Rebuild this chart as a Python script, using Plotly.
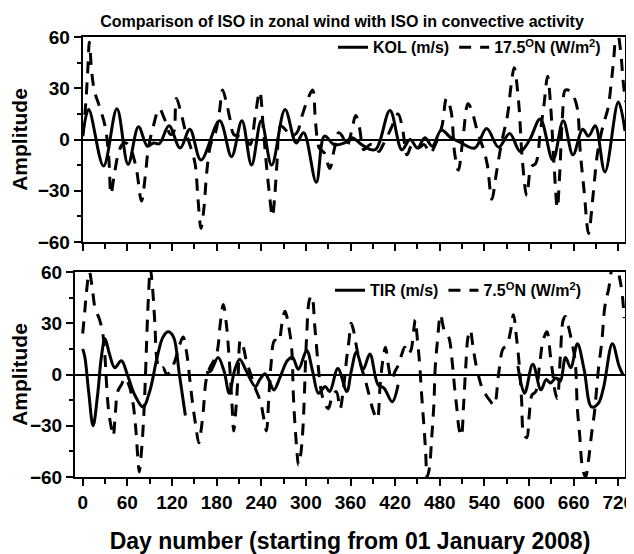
import plotly.graph_objects as go

# ---------------- data ----------------
kol_day = [0, 8, 28, 46, 61, 75, 87, 95, 103, 116, 131, 144, 159, 184, 200, 214, 227, 240, 254, 272,
           287, 297, 314, 325, 338, 352, 362, 375, 393, 413, 429, 440, 450, 460, 470, 482, 495, 507, 527, 543,
           559, 574, 588, 601, 615, 632, 646, 659, 672, 680, 689, 702, 720, 729]
kol_val = [2, 17.5, -15.5, 18, -14.5, 7.5, -4, -2, -2.5, 8, -5, 6, -12, 11, -10, 11, -15, 11, -15, 17.5,
           -2, 4, -25, 2, -3, -2, 1, -3, -6, 17, -6, 0, -5, 1, -4, 5.5, 1, -1.5, -5, 6.4,
           -4.5, 3.5, -7, 0, 12, -12, 11, -9, 6, 2, 8, -19, 22, 5]

n17_day = [0, 3, 5, 7, 9, 12, 16, 22, 30, 35, 38,
           42, 47, 53, 58, 64, 72, 79, 84, 88, 95,
           103, 110, 118, 122, 126, 133, 138, 144, 151, 155,
           159, 163, 167, 172, 178, 184, 188, 193, 198, 203,
           210, 218, 225, 232, 238, 243, 247, 251, 255, 258,
           261, 266, 272, 280, 288, 295, 302, 309, 313, 318,
           325, 332, 338, 344, 349, 355, 361, 367, 372, 378,
           386, 394, 398, 405, 414, 424, 430, 436, 443, 451,
           459, 467, 474, 483, 489, 495, 500, 505, 511, 518,
           523, 531, 539, 544, 550, 556, 563, 571, 576, 580,
           586, 591, 597, 603, 609, 615, 620, 625, 629, 633,
           638, 641, 645, 649, 656, 664, 669, 674, 680, 686,
           692, 700, 706, 711, 714, 718, 723, 727, 730]
n17_val = [2, 15, 27, 42, 57, 40, 28, 20, 8, -10, -32,
           -22, -10, -3, -2, -5, -17, -36, -22, -6, 8,
           18, 12, 3, 4, 24, 14, 5, -3, -14, -35,
           -52, -40, -18, -3, 3, 17, 29, 22, 12, 3,
           2, 1, -3, 14, 28, 5, -15, -32, -45, -34,
           -15, 8, 6, 2, 4, 14, 23, 29, 10, -5,
           -8, -17, -6, 4, 2, -4, 4, 14, 7, -6,
           -3, -4, -7, -2, 6, 15, 6, -9, -3, -5,
           -3, -8, -3, 8, 24, 17, -8, -18, 0, 21,
           17, 4, -6, -15, -35, -20, -2, 14, 32, 42,
           22, -12, -33, -16, -14, 4, 20, 37, 20, -10,
           -40, -22, 14, 29, 28, 20, -8, -30, -55, -33,
           -8, 9, 18, 35, 48, 66, 52, 32, 22]

tir_day = [0, 3, 8, 14, 20, 25, 30, 36, 43, 52, 60, 70, 81, 90, 100, 108, 115, 122, 130, 138,
           150, 166, 172, 182, 190, 197, 204, 211, 220, 232, 238, 245, 251, 257, 265, 275, 282, 290, 301, 309,
           317, 326, 332, 343, 355, 361, 368, 377, 386, 397, 405, 416, 424, 500,
           585, 594, 605, 616, 623, 629, 636, 642, 649, 656, 665, 674, 684, 693, 700, 712, 721, 726]
tir_val = [15, 10, -10, -30, -12, 10, 21, 12, 4, 8, 0, -12, -19, -10, 10, 22, 25, 22, 0, -24,
           None, 1, 2, 10, 2, -11, 2, 9, 2, -7, -3, 0.5, -4, -9, -2, 8, 10, 3, 14, 2,
           -11, -7, -10, 3.5, -10, 2, 13, 3, 12, -6, -8, -16, -6, None,
           5, -11, 6, -9, -3, -5, -2, -4, 10, 4, 18, 3, -19, -17, -8, 18, 5, 0]

n75_day = [0, 3, 5, 9, 13, 17, 22, 27, 30, 32, 35, 38, 41, 44, 47, 52, 57, 62, 67, 71,
           74, 76, 79, 82, 84, 86, 88, 91, 94, 97, 100, 104, 108, 113, 118, 124, 130, 135, 140, 144,
           148, 152, 156, 159, 162, 166, 171, 176, 181, 185, 189, 193, 196, 199, 201, 203, 206, 209, 212, 216,
           220, 226, 232, 239, 244, 247, 250, 253, 258, 263, 268, 272, 277, 281, 283, 285, 288, 290, 293, 296,
           298, 301, 305, 308, 312, 316, 319, 323, 330, 336, 341, 346, 350, 355, 358, 361, 364, 369, 374, 379,
           385, 389, 393, 396, 400, 404, 407, 411, 415, 420, 425, 429, 433, 437, 441, 445, 447, 450, 453, 455,
           457, 459, 461, 463, 466, 469, 472, 474, 477, 481, 486, 492, 497, 500, 503, 506, 509, 512, 515, 518,
           521, 525, 530, 537, 542, 547, 553, 559, 565, 570, 575, 579, 583, 587, 590, 593, 597, 600, 604, 609,
           614, 619, 624, 629, 632, 635, 638, 642, 646, 649, 653, 658, 662, 665, 668, 672, 676, 680, 684, 688,
           693, 698, 702, 707, 713, 718, 722, 725, 728]
n75_val = [24, 38, 48, 60, 50, 38, 33, 24, 10, -5, -22, -30, -36, -22, -10, -6, -2, -6, -15, -30,
           -48, -57, -45, -25, -5, 20, 42, 62, 50, 30, 8, 3, 4, 0, 2, 8, 17, 22, 12, -3,
           -18, -30, -40, -33, -22, -3, 4, 8, 14, 30, 41, 30, 15, -5, -20, -33, -20, 0, 20, 16,
           8, 0, -8, -16, -27, -33, -15, 5, 20, 19, 30, 37, 28, 15, -10, -27, -45, -53, -47, -32,
           -12, 22, 44, 46, 28, 8, -5, -14, -20, -12, -10, -20, -10, 10, 20, 30, 26, 14, 5, -2,
           -12, -19, -24, -26, -5, 10, 16, 5, -3, 2, 6, 12, 16, 12, 14, 26, 32, 20, 6, -8,
           -20, -32, -45, -60, -55, -38, -18, 5, 20, 35, 26, 22, 6, -8, -20, -32, -36, -18, 5, 22,
           26, 15, 3, -8, -12, -15, -18, 0, 15, 17, 25, 35, 22, 5, -15, -35, -37, -25, -12, -10,
           5, 20, 25, 10, 0, -10, -14, 10, 32, 34, 28, 18, 8, -20, -35, -55, -60, -50, -35, -22,
           2, 20, 40, 50, 63, 63, 56, 48, 33]

x_ticks = [0, 60, 120, 180, 240, 300, 360, 420, 480, 540, 600, 660, 720]
y_ticks = [-60, -30, 0, 30, 60]

title_text = "Comparison of ISO in zonal wind with ISO in convective activity"
xtitle_text = "Day number (starting from 01 January 2008)"
ytitle_text = "Amplitude"

# ---------------- geometry ----------------
# The page body adds an 8px margin, so the figure is drawn 8px smaller and
# every reference page position is shifted by that amount.
OFF = 8
W, H = 634 - OFF, 554 - OFF
FONT = "Liberation Sans, Arial, sans-serif"

def px(v):
    return v - OFF

plot_left_bot = px(75)
plot_left_top = px(82.7)
plot_right = px(625)
top_y_hi, top_y_lo = px(36.7), px(241.7)
bot_y_hi, bot_y_lo = px(271.7), px(476.7)

ML, MR, MT, MB = plot_left_bot, W - plot_right, top_y_hi, H - bot_y_lo
PW = W - ML - MR
PH = H - MT - MB

day_per_px = 729 / (plot_right - plot_left_top)

fig = go.Figure()

line_solid = dict(color="black", width=3, shape="spline", smoothing=1.0)
line_dash = dict(color="black", width=3, shape="spline", smoothing=1.0, dash="12px,9px")

fig.add_trace(go.Scatter(x=kol_day, y=kol_val, mode="lines", name="KOL (m/s)",
                         line=line_solid, xaxis="x", yaxis="y", legend="legend"))
fig.add_trace(go.Scatter(x=n17_day, y=n17_val, mode="lines", name="17.5<sup>O</sup>N (W/m<sup>2</sup>)",
                         line=line_dash, xaxis="x", yaxis="y", legend="legend"))
fig.add_trace(go.Scatter(x=tir_day, y=tir_val, mode="lines", name="TIR (m/s)", connectgaps=False,
                         line=line_solid, xaxis="x2", yaxis="y2", legend="legend2"))
fig.add_trace(go.Scatter(x=n75_day, y=n75_val, mode="lines", name="7.5<sup>O</sup>N (W/m<sup>2</sup>)",
                         line=line_dash, xaxis="x2", yaxis="y2", legend="legend2"))

tickfont = dict(family=FONT, size=19, color="black", weight="bold")
common_x = dict(showline=True, linecolor="black", linewidth=2, mirror=True, zeroline=False,
                showgrid=False, ticks="outside", ticklen=7, tickwidth=1.5, tickcolor="black",
                tickvals=x_ticks, tickfont=tickfont, ticklabeloverflow="allow",
                minor=dict(ticks="outside", ticklen=5, tickwidth=1.5, tickcolor="black", dtick=30, tick0=0))
common_y = dict(showline=True, linecolor="black", linewidth=2, mirror=True, zeroline=True,
                zerolinecolor="black", zerolinewidth=1.5, showgrid=False, ticks="outside", ticklen=7,
                tickwidth=1.5, tickcolor="black", tickvals=y_ticks, range=[-60, 60], tickfont=tickfont,
                minor=dict(ticks="outside", ticklen=4, tickwidth=1.5, tickcolor="black", dtick=15, tick0=0),
                title=dict(text=ytitle_text, font=dict(family=FONT, size=21, color="black", weight="bold"),
                           standoff=14))

legend_font = dict(family=FONT, size=16, color="black", weight="bold")

fig.update_layout(
    width=W, height=H,
    margin=dict(l=ML, r=MR, t=MT, b=MB, autoexpand=False),
    paper_bgcolor="white", plot_bgcolor="white",
    title=dict(text=title_text, x=px(342) / W, xanchor="center", y=1 - px(21) / H, yanchor="middle",
               font=dict(family=FONT, size=16, color="black", weight="bold")),
    xaxis=dict(common_x, domain=[(plot_left_top - ML) / PW, 1], range=[0, 729], anchor="y",
               showticklabels=False),
    yaxis=dict(common_y, domain=[(H - MB - top_y_lo) / PH, 1], anchor="x"),
    xaxis2=dict(common_x, domain=[0, 1], range=[-(plot_left_top - plot_left_bot) * day_per_px, 729],
                anchor="y2",
                title=dict(text=xtitle_text, font=dict(family=FONT, size=23, color="black", weight="bold"),
                           standoff=23)),
    yaxis2=dict(common_y, domain=[0, (H - MB - bot_y_hi) / PH], anchor="x2"),
    legend=dict(x=(px(606) - ML) / PW, xanchor="right", y=(H - MB - px(47)) / PH, yanchor="middle",
                orientation="h", font=legend_font, bgcolor="rgba(0,0,0,0)", itemwidth=30,
                tracegroupgap=0),
    legend2=dict(x=(px(587) - ML) / PW, xanchor="right", y=(H - MB - px(290)) / PH, yanchor="middle",
                 orientation="h", font=legend_font, bgcolor="rgba(0,0,0,0)", itemwidth=30,
                 tracegroupgap=0),
    showlegend=True,
)

fig.write_html("out.html")
